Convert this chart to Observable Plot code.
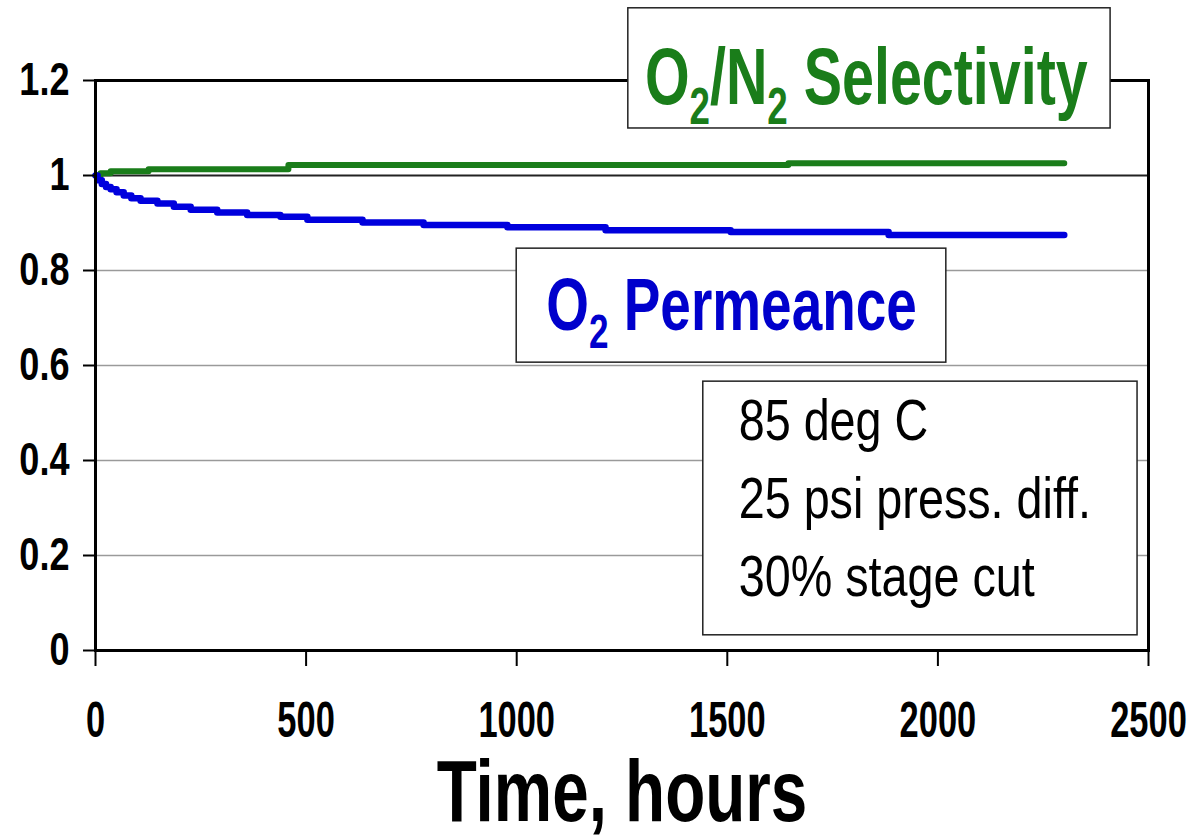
<!DOCTYPE html>
<html><head><meta charset="utf-8">
<script src="https://cdn.jsdelivr.net/npm/d3@7"></script>
<script src="https://cdn.jsdelivr.net/npm/@observablehq/plot@0.6"></script>
<style>body{margin:0;background:#fff;}</style>
</head><body><div id="chart"></div>
<script>
// ---- data ----
const hoursPerm = [0, 5, 15, 25, 36, 50, 67, 85, 107, 147, 186, 226, 289, 360, 439, 503, 634, 779, 978, 1211, 1508, 1883, 2300];
const permeance = [1.0, 0.99, 0.982, 0.976, 0.971, 0.965, 0.958, 0.952, 0.947, 0.941, 0.934, 0.928, 0.922, 0.917, 0.913, 0.907, 0.901, 0.896, 0.891, 0.885, 0.881, 0.875, 0.875];
const hoursSel = [0, 12, 36, 126, 458, 1645, 2300];
const selectivity = [1.0, 1.005, 1.009, 1.013, 1.022, 1.026, 1.026];
const xTicks = [0, 500, 1000, 1500, 2000, 2500];
const xTickLabels = ["0", "500", "1000", "1500", "2000", "2500"];
const yTicks = [0, 0.2, 0.4, 0.6, 0.8, 1, 1.2];
const yTickLabels = ["0", "0.2", "0.4", "0.6", "0.8", "1", "1.2"];
const gridLevels = [0.2, 0.4, 0.6, 0.8];
const referenceLevel = [1];
const selLabel = "O_2/N_2 Selectivity";
const permLabel = "O_2 Permeance";
const conditions = ["85 deg C", "25 psi press. diff.", "30% stage cut"];
const xTitle = "Time, hours";

// ---- build ----
const FONT = "'Liberation Sans',Arial,sans-serif";
const GREEN = "#1a7d1a", BLUE = "#0000dd";
const permData = hoursPerm.map((t, i) => ({t, v: permeance[i]}));
const selData = hoursSel.map((t, i) => ({t, v: selectivity[i]}));
const boxes = [
  {x1: 1265, x2: 2410, y1: 1.099, y2: 1.352},
  {x1: 1000, x2: 2020, y1: 0.606, y2: 0.846},
  {x1: 1443, x2: 2474, y1: 0.032, y2: 0.566}
];

const svg = Plot.plot({
  width: 1195, height: 839,
  marginLeft: 95, marginRight: 47, marginTop: 80, marginBottom: 189,
  style: {fontFamily: FONT, background: "white", color: "black", overflow: "visible"},
  x: {domain: [0, 2500]},
  y: {domain: [0, 1.2]},
  marks: [
    Plot.ruleY(gridLevels, {stroke: "#9a9a9a", strokeWidth: 1.5}),
    Plot.ruleY(referenceLevel, {stroke: "#222", strokeWidth: 2}),
    Plot.line(selData, {x: "t", y: "v", curve: "step-after", stroke: GREEN, strokeWidth: 6}),
    Plot.line(permData, {x: "t", y: "v", curve: "step-after", stroke: BLUE, strokeWidth: 6.5}),
    Plot.frame({stroke: "black", strokeWidth: 3}),
    Plot.rect(boxes, {x1: "x1", x2: "x2", y1: "y1", y2: "y2", fill: "white", stroke: "#222", strokeWidth: 1.5}),
    Plot.axisX({ticks: xTicks, tickFormat: d => xTickLabels[xTicks.indexOf(d)], tickSize: 16, tickPadding: 36,
      fontSize: 42, fontWeight: "bold", strokeWidth: 2, label: null}),
    Plot.axisY({ticks: yTicks, tickFormat: d => yTickLabels[yTicks.indexOf(d)], tickSize: 12, tickPadding: 14,
      fontSize: 44, fontWeight: "bold", strokeWidth: 2, label: null}),
    Plot.text([selLabel], {x: 1830, y: 1.204, fill: GREEN, fontSize: 70, fontWeight: "bold", lineAnchor: "middle"}),
    Plot.text([permLabel], {x: 1510, y: 0.725, fill: "#0000cc", fontSize: 67, fontWeight: "bold", lineAnchor: "middle"}),
    Plot.text([conditions.join("\n")], {x: 1527, y: 0.56, textAnchor: "start", lineAnchor: "top", fontSize: 57, lineHeight: 1.37, fill: "black"}),
    Plot.text([xTitle], {frameAnchor: "bottom", dy: 170, lineAnchor: "bottom", fontSize: 80, fontWeight: "bold", fill: "black"})
  ]
});

// subscripts
for (const t of svg.querySelectorAll("text")) {
  if (t.children.length === 0 && t.textContent.includes("_")) {
    const fs = parseFloat(t.closest("[font-size]")?.getAttribute("font-size")) || 60;
    const shift = 0.24 * fs;
    const parts = t.textContent.split(/(_\d)/).filter(s => s.length);
    t.textContent = "";
    let down = false;
    for (const p of parts) {
      const ts = document.createElementNS("http://www.w3.org/2000/svg", "tspan");
      if (p.startsWith("_")) {
        ts.textContent = p.slice(1);
        ts.setAttribute("font-size", "64%");
        ts.setAttribute("dy", shift);
        down = true;
      } else {
        ts.textContent = p;
        if (down) { ts.setAttribute("dy", -shift); down = false; }
      }
      t.appendChild(ts);
    }
  }
}

// narrow, tall lettering (Arial Narrow look)
const isNum = v => v != null && /^-?[\d.]+$/.test(v);
function stretch(t, sx, sy) {
  let x = 0, y = 0;
  if (isNum(t.getAttribute("x"))) { x = +t.getAttribute("x"); t.removeAttribute("x"); }
  if (isNum(t.getAttribute("y"))) { y = +t.getAttribute("y"); t.removeAttribute("y"); }
  const tr = t.getAttribute("transform") || "";
  t.setAttribute("transform", `${tr} translate(${x},${y}) scale(${sx},${sy})`);
}
for (const t of svg.querySelectorAll("text")) {
  const s = t.textContent;
  if (t.closest("g[aria-label='x-axis tick label']")) stretch(t, 0.82, 1.17);
  else if (t.closest("g[aria-label='y-axis tick label']")) stretch(t, 0.82, 1.05);
  else if (s === xTitle) stretch(t, 0.82, 1.1);
  else if (s.includes("Selectivity")) stretch(t, 0.82, 1.15);
  else if (s.includes("Permeance")) stretch(t, 0.82, 1.12);
  else stretch(t, 0.82, 1.0);
}
document.getElementById("chart").appendChild(svg);
</script>
</body></html>
